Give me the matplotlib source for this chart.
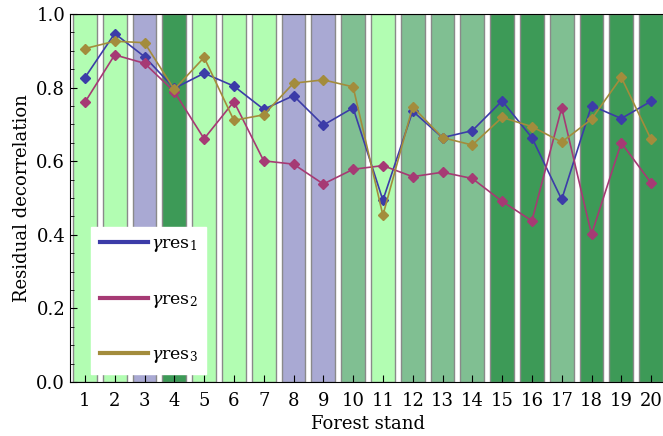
import matplotlib
matplotlib.use('Agg')
from matplotlib import pyplot as plt
from matplotlib.ticker import MultipleLocator
import numpy as np

stands = list(range(1, 21))
stand_type = ['light', 'light', 'lav', 'dark', 'light', 'light', 'light', 'lav', 'lav', 'mid',
              'light', 'mid', 'mid', 'mid', 'dark', 'dark', 'mid', 'dark', 'dark', 'dark']

gamma1 = [0.827, 0.947, 0.884, 0.798, 0.839, 0.804, 0.741, 0.778, 0.698, 0.745,
          0.494, 0.736, 0.664, 0.683, 0.764, 0.664, 0.496, 0.751, 0.716, 0.763]
gamma2 = [0.760, 0.889, 0.866, 0.789, 0.661, 0.762, 0.601, 0.592, 0.538, 0.578,
          0.588, 0.558, 0.570, 0.553, 0.491, 0.438, 0.745, 0.401, 0.650, 0.541]
gamma3 = [0.906, 0.926, 0.922, 0.795, 0.882, 0.711, 0.726, 0.812, 0.821, 0.802,
          0.453, 0.748, 0.664, 0.644, 0.719, 0.694, 0.652, 0.714, 0.828, 0.659]

bar_colors = {'light': '#b2fdb2', 'lav': '#a9a9d3', 'dark': '#3d9a57', 'mid': '#80bf92'}

plt.rcParams['font.family'] = 'DejaVu Serif'
plt.rcParams['mathtext.fontset'] = 'dejavuserif'

fig = plt.figure(figsize=(6.63, 4.36), dpi=100)
ax = fig.add_axes([70 / 663, 54 / 436, 596 / 663, 368 / 436])

ax.bar(stands, [1.0] * 20, width=0.8, color=[bar_colors[t] for t in stand_type],
       edgecolor='#8a8a8a', linewidth=1, zorder=1)

ax.plot(stands, gamma1, '-D', color='#3c3ca8', lw=1.2, ms=5.5, zorder=3, label=r'$\gamma\mathrm{res}_1$')
ax.plot(stands, gamma2, '-D', color='#a63a74', lw=1.2, ms=5.5, zorder=3, label=r'$\gamma\mathrm{res}_2$')
ax.plot(stands, gamma3, '-D', color='#a38c3c', lw=1.2, ms=5.5, zorder=3, label=r'$\gamma\mathrm{res}_3$')

ax.set_xlim(0.5, 20.5)
ax.set_ylim(0, 1.0)
ax.set_xticks(stands)
ax.yaxis.set_major_locator(MultipleLocator(0.2))
ax.yaxis.set_minor_locator(MultipleLocator(0.05))
ax.tick_params(direction='in', labelsize=13, length=5)
ax.tick_params(which='minor', direction='in', length=3)
ax.tick_params(axis='x', pad=7)

ax.set_xlabel('Forest stand', fontsize=13, labelpad=4)
ax.set_ylabel('Residual decorrelation', fontsize=13)

leg = ax.legend(loc='lower left', bbox_to_anchor=(0.035, 0.022), borderaxespad=0,
                fontsize=12.5, handlelength=2.8, labelspacing=2.1, frameon=True,
                fancybox=False, borderpad=0.5, handletextpad=0.15)
leg.get_frame().set_edgecolor('white')
leg.get_frame().set_alpha(1)
for line in leg.get_lines():
    line.set_linewidth(3)
    line.set_marker('')

fig.savefig('out.png', dpi=100)
